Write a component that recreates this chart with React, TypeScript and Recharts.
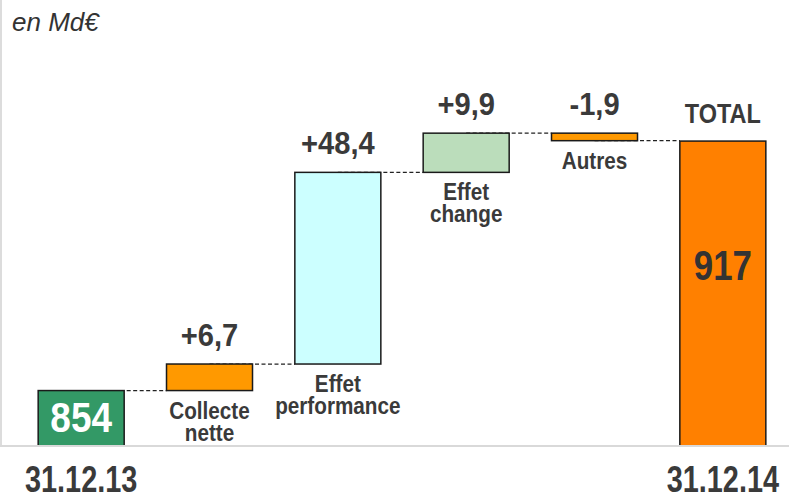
import { BarChart, Bar, XAxis, YAxis } from 'recharts';

const categories = ['31.12.13', 'Collecte nette', 'Effet performance', 'Effet change', 'Autres', '31.12.14'];
const startValue = 854;
const changes = [6.7, 48.4, 9.9, -1.9];
const totalValue = 917;
const changeLabels = ['+6,7', '+48,4', '+9,9', '-1,9'];
const stepLines = [['Collecte', 'nette'], ['Effet', 'performance'], ['Effet', 'change'], ['Autres']];
const barColors = ['#339966', '#FF9900', '#CCFFFF', '#BBDDBB', '#FF9900', '#FF8000'];
const yDomain = [840, 940];

const FONT = "'Liberation Sans', Arial, sans-serif";
const TEXT = '#3a3a3a';
const GAP = 0.165;

type Row = {
  name: string;
  range: [number, number];
  kind: 'start' | 'step' | 'total';
  delta?: number;
  top?: string;
  inside?: string;
  lines?: string[];
};

const rows: Row[] = [];
let running = startValue;
rows.push({ name: categories[0], range: [yDomain[0], startValue], kind: 'start', inside: String(startValue) });
changes.forEach((c, i) => {
  const next = running + c;
  rows.push({
    name: categories[i + 1],
    range: [Math.min(running, next), Math.max(running, next)],
    kind: 'step',
    delta: c,
    top: changeLabels[i],
    lines: stepLines[i],
  });
  running = next;
});
rows.push({ name: categories[5], range: [yDomain[0], totalValue], kind: 'total', top: 'TOTAL', inside: String(totalValue) });

// narrow bold text: Liberation Sans squeezed horizontally
const NarrowText = ({ x, y, size, sx, fill = TEXT, lines, lineGap = 0 }: any) => (
  <text
    transform={`translate(${x},${y}) scale(${sx},1)`}
    textAnchor="middle"
    fontFamily={FONT}
    fontWeight="bold"
    fontSize={size}
    fill={fill}
  >
    {lines.map((l: string, i: number) => (
      <tspan key={i} x={0} y={i * lineGap}>{l}</tspan>
    ))}
  </text>
);

const WaterfallShape = (props: any) => {
  const { x, y, width, height, index, payload } = props;
  const row = payload as Row;
  const top = Math.min(y, y + height);
  const h = Math.abs(height);
  const bottom = top + h;
  const cx = x + width / 2;
  const gap = (width * 2 * GAP) / (1 - 2 * GAP);
  const levelY = row.delta !== undefined && row.delta < 0 ? bottom : top;
  return (
    <g>
      {index < rows.length - 1 && (
        <line x1={cx} x2={x + width + gap} y1={levelY} y2={levelY} stroke="#222" strokeWidth={1.2} strokeDasharray="4 2.5" />
      )}
      <rect x={x} y={top} width={width} height={h} fill={barColors[index]} stroke="#1a1a1a" strokeWidth={1.5} />
      {row.top && (
        <NarrowText
          x={cx}
          y={top - 18}
          size={row.kind === 'total' ? 28 : 32}
          sx={row.kind === 'total' ? 0.84 : 0.91}
          lines={[row.top]}
        />
      )}
      {row.lines && <NarrowText x={cx} y={bottom + 28} size={23} sx={0.9} lines={row.lines} lineGap={22} />}
      {row.inside && (
        <NarrowText
          x={cx}
          y={row.kind === 'start' ? bottom - 14 : top + h * 0.455}
          size={43}
          sx={row.kind === 'start' ? 0.86 : 0.81}
          fill={row.kind === 'start' ? '#ffffff' : '#333333'}
          lines={[row.inside]}
        />
      )}
    </g>
  );
};

const DateTick = (props: any) => {
  const { x, y, payload, index } = props;
  if (index !== 0 && index !== rows.length - 1) return null;
  return <NarrowText x={x} y={y + 38} size={37} sx={0.78} lines={[payload.value]} />;
};

export default function App() {
  return (
    <div style={{ position: 'absolute', left: 0, top: 0, width: 789, height: 494, background: '#fff' }}>
      <div style={{ position: 'absolute', left: 0, top: 0, width: 2, height: 447, background: '#dcdcdc' }} />
      <div
        style={{
          position: 'absolute',
          left: 12,
          top: 9,
          lineHeight: 1,
          fontFamily: FONT,
          fontStyle: 'italic',
          fontSize: 26,
          color: '#333',
        }}
      >
        en Md€
      </div>
      <BarChart
        width={789}
        height={494}
        data={rows}
        barCategoryGap={`${GAP * 100}%`}
        margin={{ top: 50, right: 0, bottom: 0, left: 0 }}
      >
        <XAxis
          dataKey="name"
          height={48}
          padding={{ left: 17, right: 2 }}
          axisLine={{ stroke: '#d9d9d9', strokeWidth: 2 }}
          tickLine={false}
          interval={0}
          tick={<DateTick />}
        />
        <YAxis hide domain={yDomain} allowDataOverflow />
        <Bar dataKey="range" isAnimationActive={false} shape={<WaterfallShape />} />
      </BarChart>
    </div>
  );
}
